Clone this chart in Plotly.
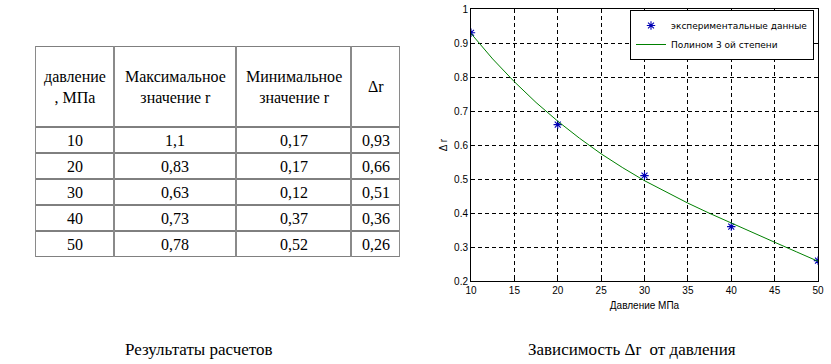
import plotly.graph_objects as go

# ---- data ----
pressure = [10, 20, 30, 40, 50]
r_max = ["1,1", "0,83", "0,63", "0,73", "0,78"]
r_min = ["0,17", "0,17", "0,12", "0,37", "0,52"]
delta_r_txt = ["0,93", "0,66", "0,51", "0,36", "0,26"]
delta_r = [0.93, 0.66, 0.51, 0.36, 0.26]
table_header = ["давление<br>, МПа", "Максимальное<br>значение r", "Минимальное<br>значение r", "Δr"]

fit_x = [10, 12.5, 15, 17.5, 20, 22.5, 25, 27.5, 30, 32.5, 35, 37.5, 40, 42.5, 45, 47.5, 50]
fit_y = [0.928, 0.853, 0.786, 0.725, 0.670, 0.620, 0.574, 0.533, 0.495, 0.461,
         0.429, 0.399, 0.370, 0.342, 0.314, 0.286, 0.258]

x_ticks = [10, 15, 20, 25, 30, 35, 40, 45, 50]
y_ticks = [0.2, 0.3, 0.4, 0.5, 0.6, 0.7, 0.8, 0.9, 1.0]
y_tick_text = ["0.2", "0.3", "0.4", "0.5", "0.6", "0.7", "0.8", "0.9", "1"]

# ---- layout geometry (pixels) ----
W, H = 831, 364
serif = "Liberation Serif"
sans = "Liberation Sans"
col_widths = [79, 122, 115, 49]
header_h = 81
row_h = 26

fig = go.Figure()

fig.add_trace(go.Scatter(
    x=pressure, y=delta_r, mode="markers", name="экспериментальные данные",
    marker=dict(symbol="asterisk-open", size=7, color="#0000b4",
                line=dict(color="#0000b4", width=1.1)),
))
fig.add_trace(go.Scatter(
    x=fit_x, y=fit_y, mode="lines", name="Полином 3 ой степени",
    line=dict(color="#008000", width=1),
))

# ---- table drawn on a hidden axis pair (x2/y2) ----
col_edges = [0]
for w in col_widths:
    col_edges.append(col_edges[-1] + w)
n_rows = len(pressure)
row_edges = [0, header_h] + [header_h + row_h * (i + 1) for i in range(n_rows)]
total_w = col_edges[-1]
total_h = row_edges[-1]

shapes = []
for yv in row_edges:
    shapes.append(dict(type="line", xref="x2", yref="y2", x0=0, x1=total_w, y0=yv, y1=yv,
                       line=dict(color="black", width=1)))
for xv in col_edges:
    shapes.append(dict(type="line", xref="x2", yref="y2", x0=xv, x1=xv, y0=0, y1=total_h,
                       line=dict(color="#8a8a8a", width=2)))

annotations = []
columns = [[str(p) for p in pressure], r_max, r_min, delta_r_txt]
for j, head in enumerate(table_header):
    cx = (col_edges[j] + col_edges[j + 1]) / 2
    annotations.append(dict(text=head, x=cx, y=header_h / 2, xref="x2", yref="y2",
                            xanchor="center", yanchor="middle", showarrow=False,
                            font=dict(family=serif, size=16, color="black")))
    for i, val in enumerate(columns[j]):
        cy = (row_edges[i + 1] + row_edges[i + 2]) / 2
        annotations.append(dict(text=val, x=cx, y=cy, xref="x2", yref="y2",
                                xanchor="center", yanchor="middle", showarrow=False,
                                font=dict(family=serif, size=16, color="black")))

annotations += [
    dict(text="Результаты расчетов", x=199 / W, y=1 - 349 / H, xref="paper", yref="paper",
         xanchor="center", yanchor="middle", showarrow=False,
         font=dict(family=serif, size=17, color="black")),
    dict(text="Зависимость Δr  от давления", x=632 / W, y=1 - 349 / H, xref="paper",
         yref="paper", xanchor="center", yanchor="middle", showarrow=False,
         font=dict(family=serif, size=17, color="black")),
]

axis_common = dict(
    showline=True, linecolor="black", linewidth=1, mirror="ticks",
    ticks="inside", ticklen=4, tickcolor="black",
    showgrid=True, gridcolor="black", griddash="4px,3px", gridwidth=1,
    zeroline=False, tickfont=dict(family=sans, size=10, color="black"),
    automargin=False,
)

fig.update_layout(
    width=W, height=H, margin=dict(l=0, r=0, t=0, b=0),
    paper_bgcolor="white", plot_bgcolor="white",
    xaxis=dict(domain=[471 / W, 818 / W], range=[10, 50], tickvals=x_ticks,
               title=dict(text="Давление МПа", font=dict(family=sans, size=10, color="black"),
                          standoff=6),
               **axis_common),
    yaxis=dict(domain=[1 - 281 / H, 1 - 9 / H], range=[0.2, 1.0], tickvals=y_ticks,
               ticktext=y_tick_text,
               title=dict(text="Δ r", font=dict(family=sans, size=10, color="black"),
                          standoff=4),
               **axis_common),
    xaxis2=dict(domain=[35 / W, 400 / W], range=[0, total_w], visible=False,
                anchor="y2", fixedrange=True),
    yaxis2=dict(domain=[1 - 257 / H, 1 - 46 / H], range=[total_h, 0], visible=False,
                anchor="x2", fixedrange=True),
    legend=dict(x=814 / W, xanchor="right", y=1 - 10 / H, yanchor="top",
                bgcolor="white", bordercolor="black", borderwidth=1,
                font=dict(family="DejaVu Sans", size=9, color="black"),
                tracegroupgap=0, itemwidth=30),
    showlegend=True,
    shapes=shapes,
    annotations=annotations,
)

fig.write_html("out.html", config={"displayModeBar": False},
               post_script="document.body.style.margin='0';")
